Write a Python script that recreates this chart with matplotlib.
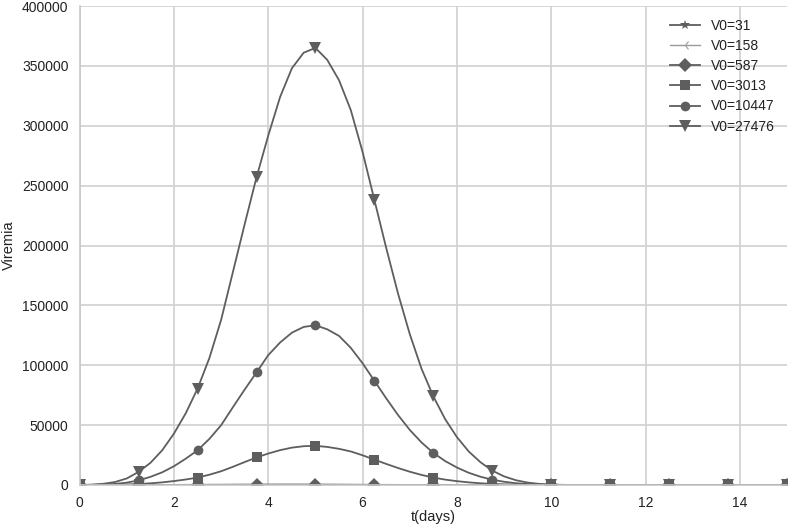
import numpy as np
import matplotlib
matplotlib.use("Agg")
import matplotlib.pyplot as plt

t = np.arange(0, 15.001, 0.25)

labels = ["V0=31", "V0=158", "V0=587", "V0=3013", "V0=10447", "V0=27476"]

v31 = [0]*61
v158 = [0]*61
v587 = [0, 0, 2, 5, 10, 20, 35, 60, 90, 120, 160, 200, 240, 290, 330, 360, 390, 410, 420, 410,
        390, 350, 300, 250, 200, 160, 120, 90, 65, 45, 30, 20, 12, 8, 5, 3, 2, 1, 1, 0, 0] + [0]*20
v3013 = [0, 30, 100, 220, 450, 850, 1400, 2200, 3300, 4600, 6200, 8600, 11500, 15200, 19200,
         23000, 26300, 29100, 31200, 32400, 32700, 31800, 30200, 28000, 24800, 21200, 17600,
         14200, 11100, 8400, 6200, 4500, 3200, 2200, 1450, 900, 550, 320, 180, 100, 50,
         25, 10] + [0]*18
v10447 = [0, 100, 380, 900, 2000, 3900, 6800, 10600, 15700, 22000, 29000, 38500, 50000, 65000,
          79800, 94000, 108500, 119000, 127200, 132000, 133400, 130000, 124500, 114500, 101600,
          87000, 72400, 58500, 46000, 35500, 26800, 20000, 14600, 10200, 6900, 4400, 2700, 1500,
          800, 380, 150, 60, 20] + [0]*18
v27476 = [0, 300, 1000, 2500, 5500, 11000, 18500, 29000, 43000, 60000, 80500, 106000, 138000,
          178000, 218000, 257000, 292000, 324000, 348000, 361000, 365000, 355000, 338000, 313000,
          278000, 238000, 198000, 160000, 126000, 97000, 74000, 55000, 40000, 28000, 19000,
          12000, 7200, 4000, 2000, 900, 350, 120, 40] + [0]*18

series = [v31, v158, v587, v3013, v10447, v27476]
markers = ["*", "3", "D", "s", "o", "v"]
msizes = [7, 8, 7, 7, 7, 8]

plt.rcParams['font.family'] = ['Liberation Sans', 'DejaVu Sans']
fig = plt.figure(figsize=(7.88, 5.31), dpi=100)
ax = fig.add_axes([79.7/788, 1 - 485/531, (787 - 79.7)/788, (485 - 6)/531])

color = "#5e5e5e"
for y, lab, mk, ms in zip(series, labels, markers, msizes):
    if mk == "3":
        ax.plot(t, y, color="#9a9a9a", lw=1.0, marker=mk, markersize=ms, markevery=5,
                label=lab, markeredgewidth=0.8)
    else:
        ax.plot(t, y, color=color, lw=1.3, marker=mk, markersize=ms, markevery=5,
                label=lab, markeredgewidth=0)

ax.set_xlim(0, 15)
ax.set_ylim(0, 400000)
ax.set_xticks([0, 2, 4, 6, 8, 10, 12, 14])
ax.set_yticks(np.arange(0, 400001, 50000))
ax.grid(True, color="#d0d0d0", lw=1.2)
ax.set_axisbelow(True)
for s in ["top", "right"]:
    ax.spines[s].set_visible(False)
for s in ["left", "bottom"]:
    ax.spines[s].set_color("#c8c8c8")
    ax.spines[s].set_linewidth(1.2)
ax.tick_params(length=0, labelsize=10, colors="#222222", pad=8)
ax.set_xlabel("t(days)", fontsize=10.5, color="#222222", labelpad=0)
ax.set_ylabel("Viremia", fontsize=10.5, color="#222222", labelpad=4)

leg = ax.legend(loc="upper right", frameon=False, fontsize=10, handlelength=2.1,
                labelspacing=0.45, bbox_to_anchor=(1.0, 1.0))
for txt in leg.get_texts():
    txt.set_color("#222222")

fig.savefig("out.png", dpi=100)
